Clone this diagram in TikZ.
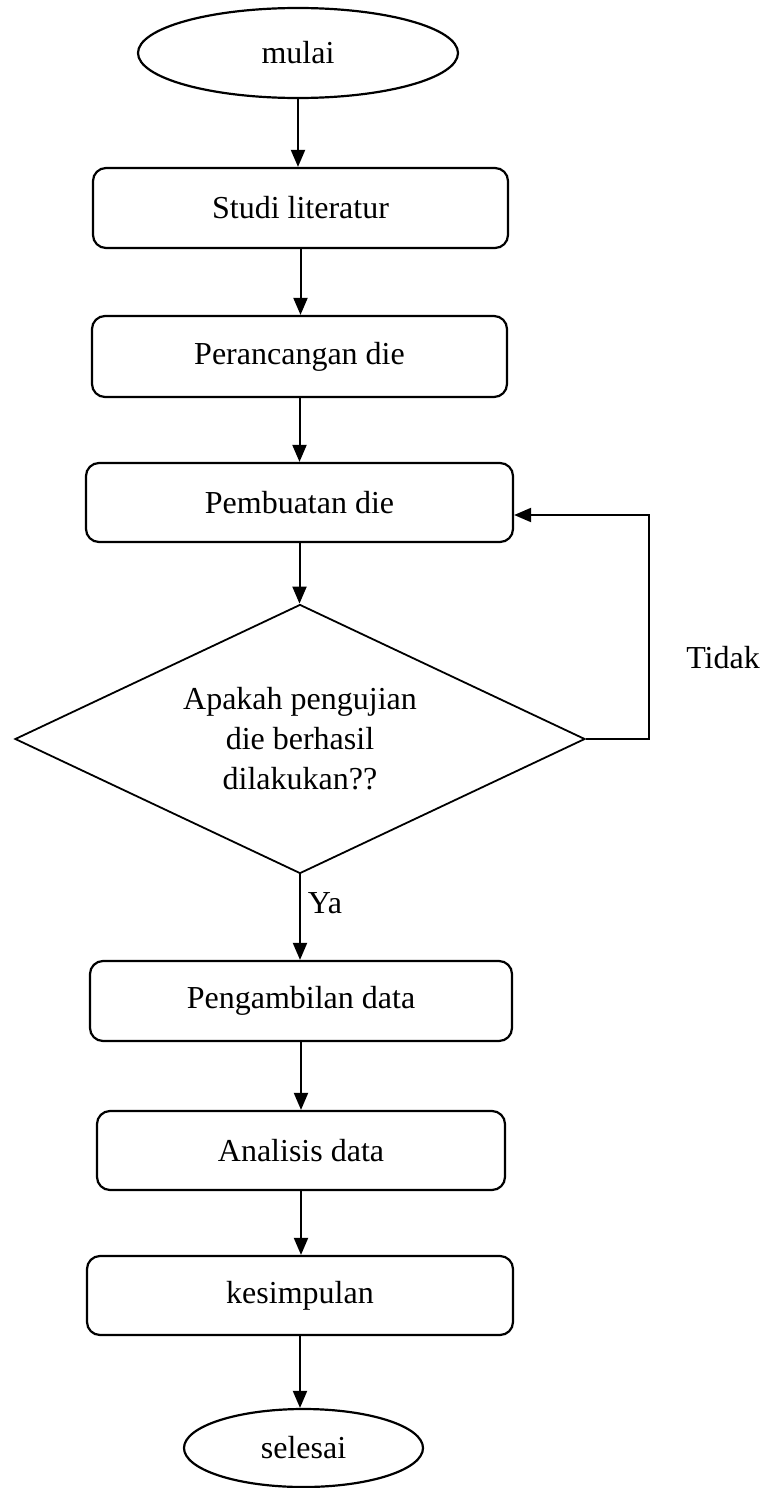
\documentclass[tikz,border=0pt]{standalone}
\usepackage{fontspec}
\setmainfont{Liberation Serif}
\usetikzlibrary{shapes.geometric,arrows.meta}
\begin{document}
\begin{tikzpicture}[x=1pt,y=-1pt,
  every node/.style={font=\fontsize{32}{40}\selectfont, inner sep=0pt},
  term/.style={draw, ellipse, line width=2.2pt},
  procbox/.style={draw, rectangle, rounded corners=13pt, line width=2.2pt},
  decis/.style={draw, diamond, aspect=2.12, line width=1.8pt, align=center},
  arr/.style={line width=2pt, -{Triangle[length=17pt,width=14pt]}},
  lbl/.style={}]
\useasboundingbox (0,0) rectangle (760,1488);
\node[term, minimum width=320pt, minimum height=90pt] (mulai) at (298,53) {mulai};
\node[procbox, minimum width=415pt, minimum height=80pt] (studi) at (300.5,208) {Studi literatur};
\node[procbox, minimum width=415pt, minimum height=81pt] (peranc) at (299.5,356.5) {Perancangan die};
\node[procbox, minimum width=427pt, minimum height=79pt] (buat) at (299.5,502.5) {Pembuatan die};
\node[decis, minimum width=570pt, minimum height=269pt] (dia) at (300,739) {Apakah pengujian\\die berhasil\\dilakukan??};
\node[procbox, minimum width=422pt, minimum height=80pt] (ambil) at (301,1001) {Pengambilan data};
\node[procbox, minimum width=408pt, minimum height=79pt] (anal) at (301,1150.5) {Analisis data};
\node[procbox, minimum width=426pt, minimum height=79pt] (simp) at (300,1295.5) {kesimpulan};
\node[term, minimum width=239pt, minimum height=78pt] (selesai) at (303.5,1448) {selesai};
\node[lbl] (tidak) at (723,658) {Tidak};
\node[lbl] (ya) at (325,903) {Ya};
\coordinate (loopc) at (649,515);
\draw[arr] (mulai.south) -- (mulai.south |- studi.north);
\draw[arr] (studi.south) -- (studi.south |- peranc.north);
\draw[arr] (peranc.south) -- (peranc.south |- buat.north);
\draw[arr] (buat.south) -- (buat.south |- dia.north);
\draw[arr] (dia.south) -- (dia.south |- ambil.north);
\draw[arr] (ambil.south) -- (ambil.south |- anal.north);
\draw[arr] (anal.south) -- (anal.south |- simp.north);
\draw[arr] (simp.south) -- (simp.south |- selesai.north);
\draw[arr] (dia.east) -| (loopc) -- (buat.east |- loopc);
\end{tikzpicture}
\end{document}
